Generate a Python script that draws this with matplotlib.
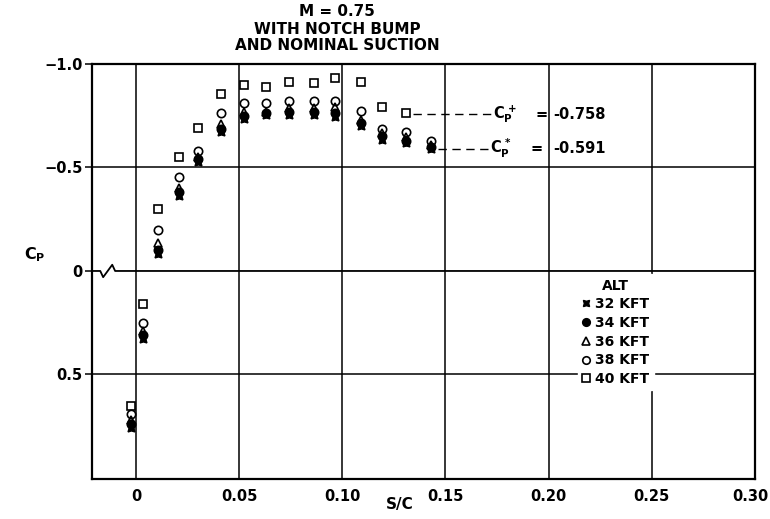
import numpy as np
import matplotlib
matplotlib.use('Agg')
import matplotlib.pyplot as plt
from matplotlib.transforms import ScaledTranslation

plt.rcParams['font.family'] = 'DejaVu Sans'
plt.rcParams['font.weight'] = 'bold'
plt.rcParams['mathtext.fontset'] = 'custom'
plt.rcParams['mathtext.rm'] = 'DejaVu Sans:bold'
plt.rcParams['mathtext.it'] = 'DejaVu Sans:bold'
plt.rcParams['mathtext.bf'] = 'DejaVu Sans:bold'

#%% Data
s_c = [-0.0024, 0.0034, 0.0106, 0.0207, 0.0303, 0.0413, 0.0524, 0.063,
       0.074, 0.0865, 0.0966, 0.109, 0.119, 0.131, 0.143]

cp_32 = [0.76, 0.33, -0.08, -0.36, -0.525, -0.67, -0.735, -0.755,
         -0.755, -0.755, -0.745, -0.70, -0.635, -0.62, -0.59]
cp_34 = [0.74, 0.31, -0.10, -0.38, -0.54, -0.685, -0.75, -0.765,
         -0.77, -0.77, -0.765, -0.715, -0.65, -0.63, -0.60]
cp_36 = [0.72, 0.29, -0.135, -0.40, -0.55, -0.71, -0.77, -0.77,
         -0.785, -0.785, -0.79, -0.73, -0.665, -0.645, -0.61]
cp_38 = [0.69, 0.25, -0.20, -0.455, -0.58, -0.765, -0.81, -0.81,
         -0.82, -0.82, -0.82, -0.775, -0.685, -0.67, -0.63]
cp_40 = [0.65, 0.16, -0.30, -0.55, -0.69, -0.855, -0.90, -0.89,
         -0.915, -0.91, -0.93, -0.915, -0.79, -0.765, np.nan]

alt_labels = ['32 KFT', '34 KFT', '36 KFT', '38 KFT', '40 KFT']

cp_plus = -0.758
cp_star = -0.591

x_ticks = [0, 0.05, 0.10, 0.15, 0.20, 0.25, 0.30]
x_ticklabels = ['0', '0.05', '0.10', '0.15', '0.20', '0.25', '0.30']
y_ticks = [-1.0, -0.5, 0, 0.5]
y_ticklabels = ['\u22121.0', '\u22120.5', '0', '0.5']

# axis-break squiggle on the Cp = 0 line
break_x = [-0.0213, -0.0173, -0.0159, -0.0115, -0.0101, 0.30]
break_y = [0, 0, 0.03, -0.03, 0, 0]


#%% Figure
fig = plt.figure(figsize=(7.7, 5.19), dpi=100)
ax = fig.add_axes([0.1195, 0.0771, 0.861, 0.7996])
ax.set_xlim(-0.0213, 0.30)
ax.set_ylim(1.005, -1.0)

# grid
for xv in x_ticks[:-1]:
    ax.axvline(xv, color='k', lw=1.1, zorder=1)
ax.axhline(-0.5, color='k', lw=1.1, zorder=1)
ax.axhline(0.5, color='k', lw=1.1, zorder=1)
ax.plot(break_x, break_y, color='k', lw=1.3, zorder=1)

ms = 6
h40, = ax.plot(s_c, cp_40, ls='none', marker='s', ms=ms, mfc='none', mec='k', mew=1.2, zorder=3)
h38, = ax.plot(s_c, cp_38, ls='none', marker='o', ms=ms, mfc='none', mec='k', mew=1.2, zorder=3)
h36, = ax.plot(s_c, cp_36, ls='none', marker='^', ms=ms, mfc='none', mec='k', mew=1.2, zorder=3)
h34, = ax.plot(s_c, cp_34, ls='none', marker='o', ms=ms, mfc='k', mec='k', mew=1.2, zorder=4)
h32, = ax.plot(s_c, cp_32, ls='none', marker=(4, 1, 45), ms=ms + 1, mfc='k', mec='k', mew=1.0, zorder=4)

# C_P annotations
ax.plot([0.1345, 0.1725], [cp_plus, cp_plus], color='k', lw=1.0, dashes=(6, 4), zorder=2)
ax.plot([0.1465, 0.1705], [cp_star, cp_star], color='k', lw=1.0, dashes=(6, 4), zorder=2)
ax.text(0.1730, cp_plus, r'$C_P^+$', fontsize=10.5, ha='left', va='center')
ax.text(0.1934, cp_plus, '=', fontsize=10.5, fontweight='bold', ha='left', va='center')
ax.text(0.2021, cp_plus, '-%.3f' % abs(cp_plus), fontsize=10.5, fontweight='bold', ha='left', va='center')
ax.text(0.1716, cp_star, r'$C_P^*$', fontsize=10.5, ha='left', va='center')
ax.text(0.1910, cp_star, '=', fontsize=10.5, fontweight='bold', ha='left', va='center')
ax.text(0.2021, cp_star, '-%.3f' % abs(cp_star), fontsize=10.5, fontweight='bold', ha='left', va='center')

ax.set_xticks(x_ticks)
ax.set_xticklabels(x_ticklabels)
ax.set_yticks(y_ticks)
ax.set_yticklabels(y_ticklabels)
ax.tick_params(axis='x', length=0, pad=7, labelsize=10.5)
ax.tick_params(axis='y', length=5, width=1.1, direction='out', pad=2, labelsize=10.5)
for sp in ax.spines.values():
    sp.set_linewidth(1.6)
last = ax.get_xticklabels()[-1]
last.set_transform(last.get_transform() + ScaledTranslation(-0.05, 0, fig.dpi_scale_trans))

leg = ax.legend([h32, h34, h36, h38, h40], alt_labels, title='ALT', loc='upper left',
                bbox_to_anchor=(0.733, 0.493), frameon=True, framealpha=1,
                facecolor='white', edgecolor='white', fontsize=10,
                title_fontproperties={'weight': 'bold', 'size': 10},
                handlelength=0.6, handletextpad=0.35, labelspacing=0.34,
                borderpad=0.3, borderaxespad=0, markerscale=0.9)
leg.set_zorder(5)

fig.text(0.0455, 1 - 255 / 519, r'$C_P$', fontsize=11.5, ha='center', va='center')
fig.text(400 / 770, 1 - 505 / 519, 'S/C', fontsize=11, fontweight='bold', ha='center', va='center')

fig.text(337 / 770, 1 - 12 / 519, 'M = 0.75', fontsize=11, fontweight='bold', ha='center', va='center')
fig.text(337 / 770, 1 - 29 / 519, 'WITH NOTCH BUMP', fontsize=11, fontweight='bold', ha='center', va='center')
fig.text(337 / 770, 1 - 46 / 519, 'AND NOMINAL SUCTION', fontsize=11, fontweight='bold', ha='center', va='center')

fig.savefig('out.png', dpi=100)
